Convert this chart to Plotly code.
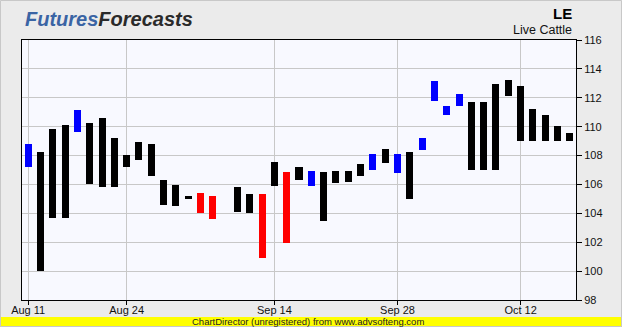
import plotly.graph_objects as go

# bar slot index (trading-day position), high, low, colour key
slots = list(range(45))
highs = [108.8, 108.25, 109.85, 110.12, 111.17, 110.26, 110.61, 109.22, 108.04, 108.94,
         108.8, 106.3, 105.95, 105.2, 105.39, 105.18, None, 105.81, 105.32, 105.32,
         107.55, 106.85, 107.2, 106.92, 106.85, 106.92, 106.92, 107.41, 108.11, 108.45,
         108.11, 108.25, 109.22, 113.19, 111.45, 112.28, 111.72, 111.72, 112.98, 113.26,
         112.84, 111.24, 110.82, 110.05, 109.57]
lows = [107.2, 100.0, 103.67, 103.67, 109.66, 106.04, 105.83, 105.83, 107.22, 107.71,
        106.6, 104.58, 104.51, 105.0, 104.0, 103.58, None, 104.07, 104.0, 100.94,
        105.9, 101.98, 106.3, 105.88, 103.46, 106.1, 106.16, 106.57, 106.99, 107.48,
        106.78, 104.99, 108.38, 111.79, 110.82, 111.45, 106.99, 106.99, 106.99, 112.14,
        109.01, 109.01, 109.01, 109.01, 109.01]
kinds = ["b", "k", "k", "k", "b", "k", "k", "k", "k", "k",
         "k", "k", "k", "k", "r", "r", "", "k", "k", "r",
         "k", "r", "k", "b", "k", "k", "k", "k", "b", "k",
         "b", "k", "b", "b", "b", "b", "k", "k", "k", "k",
         "k", "k", "k", "k", "k"]

tick_slots = [0, 8, 20, 30, 40]
tick_labels = ["Aug 11", "Aug 24", "Sep 14", "Sep 28", "Oct 12"]
y_ticks = [98, 100, 102, 104, 106, 108, 110, 112, 114, 116]

color_map = {"b": "#0000ff", "r": "#ff0000", "k": "#000000"}

xs, bases, lens, cols = [], [], [], []
for s, h, l, k in zip(slots, highs, lows, kinds):
    if h is None:
        continue
    xs.append(s)
    bases.append(l)
    lens.append(h - l)
    cols.append(color_map[k])

W, H = 554, 260  # plot area size in px
L, T = 22, 40

def px(x):
    return (x - L) / W

def py(y):
    return 1 - (y - T) / H

fig = go.Figure()
fig.add_trace(go.Bar(
    x=xs, y=lens, base=bases, width=0.57,
    marker=dict(color=cols, line=dict(width=0)),
    hoverinfo="skip", showlegend=False,
))

fig.update_layout(
    width=622, height=327,
    margin=dict(l=L, r=622 - L - W, t=T, b=327 - T - H, autoexpand=False),
    paper_bgcolor="#ebebeb",
    plot_bgcolor="#f8f9ff",
    showlegend=False,
    font=dict(family="Liberation Sans, Arial, sans-serif", size=11, color="#111111"),
    xaxis=dict(
        range=[-0.5, 44.5], automargin=False,
        tickmode="array", tickvals=tick_slots, ticktext=tick_labels,
        showgrid=True, gridcolor="#c8c8c8", gridwidth=1,
        ticks="outside", ticklen=4, tickcolor="#000000",
        showline=True, linecolor="#000000", linewidth=1, mirror=True,
        zeroline=False, tickfont=dict(size=11), ticklabelstandoff=-4,
    ),
    yaxis=dict(
        range=[98, 116], side="right", automargin=False,
        tickmode="array", tickvals=y_ticks,
        showgrid=True, gridcolor="#c8c8c8", gridwidth=1,
        ticks="outside", ticklen=5, tickcolor="#000000",
        showline=True, linecolor="#000000", linewidth=1, mirror=True,
        zeroline=False, tickfont=dict(size=11),
    ),
    bargap=0,
    shapes=[
        dict(type="rect", xref="paper", yref="paper", x0=px(0), x1=px(622),
             y0=py(327), y1=py(317), fillcolor="#ffff00", line=dict(width=0), layer="below"),
        dict(type="rect", xref="paper", yref="paper", x0=px(0.5), x1=px(621.5),
             y0=py(326.5), y1=py(0.5), line=dict(color="#c8c8c8", width=1),
             fillcolor="rgba(0,0,0,0)", layer="below"),
    ],
    annotations=[
        dict(xref="paper", yref="paper", x=px(23), y=py(19),
             xanchor="left", yanchor="middle", showarrow=False,
             text="<b><i><span style='color:#3a64a4'>Futures</span><span style='color:#2a2a2a'>Forecasts</span></i></b>",
             font=dict(family="Liberation Sans, Arial, sans-serif", size=20)),
        dict(xref="paper", yref="paper", x=px(574), y=py(14),
             xanchor="right", yanchor="middle", showarrow=False,
             text="<b>LE</b>", font=dict(size=15, color="#000000")),
        dict(xref="paper", yref="paper", x=px(574), y=py(30),
             xanchor="right", yanchor="middle", showarrow=False,
             text="Live Cattle", font=dict(size=12.5, color="#111111")),
        dict(xref="paper", yref="paper", x=px(308), y=py(328),
             xanchor="center", yanchor="bottom", showarrow=False,
             text="ChartDirector (unregistered) from www.advsofteng.com",
             font=dict(size=9.5, color="#222222"), borderpad=0),
    ],
)

fig.write_html("out.html")
